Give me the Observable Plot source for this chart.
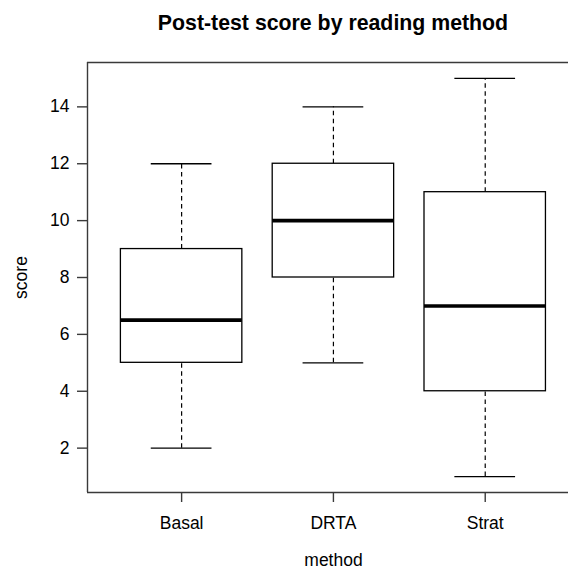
<!DOCTYPE html>
<html>
<head>
<meta charset="utf-8">
<script src="https://cdn.jsdelivr.net/npm/d3@7"></script>
<script src="https://cdn.jsdelivr.net/npm/@observablehq/plot@0.6"></script>
<style>
  html, body { margin: 0; padding: 0; background: #fff; overflow: hidden; }
  #wrap { position: relative; width: 568px; height: 570px; font-family: "Liberation Sans", Arial, sans-serif; }
  #title { position: absolute; top: 11px; left: 0; width: 666px; text-align: center; font-weight: bold; font-size: 21.3px; color: #000; line-height: 1.15; }
  #chart { position: absolute; top: 0; left: 0; }
</style>
</head>
<body>
<div id="wrap">
  <div id="chart"></div>
  <div id="title">Post-test score by reading method</div>
</div>
<script>
const methods = ["Basal", "DRTA", "Strat"];
const mins    = [2, 5, 1];
const q1s     = [5, 8, 4];
const medians = [6.5, 10, 7];
const q3s     = [9, 12, 11];
const maxs    = [12, 14, 15];
const yTicks  = [2, 4, 6, 8, 10, 12, 14];

const data = methods.map((m, i) => ({
  method: m, pos: i + 1, min: mins[i], q1: q1s[i], median: medians[i], q3: q3s[i], max: maxs[i]
}));

const boxHalf = 0.4, capHalf = 0.2;
const yLo = 0.44, yHi = 15.56, xLo = 0.38;
const lineCol = "#3a3a3a";

const chart = Plot.plot({
  width: 568,
  height: 570,
  marginLeft: 87,
  marginRight: 0,
  marginTop: 62,
  marginBottom: 78,
  style: { fontFamily: "Liberation Sans, Arial, sans-serif", fontSize: "17.5px", color: "#000", background: "#fff" },
  x: { type: "linear", domain: [xLo, 3.5486], axis: null },
  y: { domain: [yLo, yHi], axis: null },
  marks: [
    // frame (left, top, bottom; right edge lies beyond the picture)
    Plot.ruleY([yLo, yHi], { stroke: lineCol, strokeWidth: 1.4 }),
    Plot.ruleX([xLo], { stroke: lineCol, strokeWidth: 1.4 }),
    Plot.axisY({ ticks: yTicks, tickSize: 10, tickPadding: 8, stroke: lineCol, strokeWidth: 1.4, label: null, fontSize: 17.5, fill: "#000" }),
    Plot.axisX({ ticks: [1, 2, 3], tickFormat: d => methods[d - 1], tickSize: 10, tickPadding: 14, stroke: lineCol, strokeWidth: 1.4, label: null, fontSize: 17.5, fill: "#000" }),
    // whiskers
    Plot.ruleX(data, { x: "pos", y1: "q3", y2: "max", stroke: "#000", strokeWidth: 1.2, strokeDasharray: "4.5,3.5" }),
    Plot.ruleX(data, { x: "pos", y1: "min", y2: "q1", stroke: "#000", strokeWidth: 1.2, strokeDasharray: "4.5,3.5" }),
    // staples
    Plot.ruleY(data, { y: "max", x1: d => d.pos - capHalf, x2: d => d.pos + capHalf, stroke: "#000", strokeWidth: 1.3 }),
    Plot.ruleY(data, { y: "min", x1: d => d.pos - capHalf, x2: d => d.pos + capHalf, stroke: "#000", strokeWidth: 1.3 }),
    // boxes
    Plot.rect(data, { x1: d => d.pos - boxHalf, x2: d => d.pos + boxHalf, y1: "q1", y2: "q3", fill: "#fff", stroke: "#000", strokeWidth: 1.3 }),
    // medians
    Plot.ruleY(data, { y: "median", x1: d => d.pos - boxHalf, x2: d => d.pos + boxHalf, stroke: "#000", strokeWidth: 3.6 }),
    // axis titles
    Plot.text(["score"], { frameAnchor: "left", textAnchor: "middle", lineAnchor: "middle", rotate: -90, dx: -66, fontSize: 17.5, fill: "#000" }),
    Plot.text(["method"], { frameAnchor: "bottom", textAnchor: "middle", lineAnchor: "middle", dx: 5.5, dy: 68, fontSize: 17.5, fill: "#000" })
  ]
});
document.getElementById("chart").appendChild(chart);
</script>
</body>
</html>
